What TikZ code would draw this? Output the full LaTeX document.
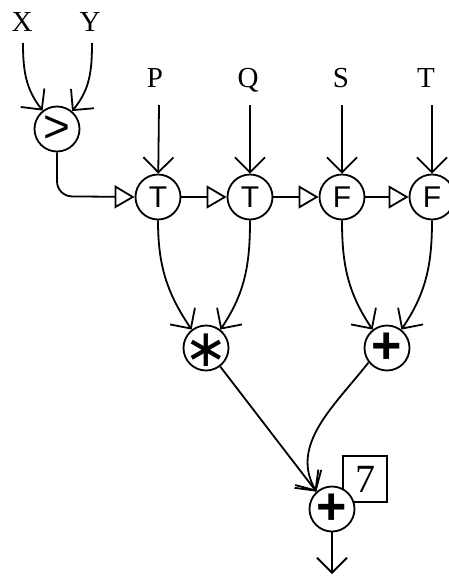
\documentclass[tikz,border=0pt]{standalone}
\usepackage{fontspec}
\setmainfont{Liberation Serif}
\newfontfamily\arial{Liberation Sans}
\newfontfamily\dejavu{DejaVu Sans}
\usetikzlibrary{arrows.meta}
\begin{document}
\begin{tikzpicture}[x=1pt,y=1pt,line width=1.8pt,
  op/.style={circle,draw,fill=white,minimum size=45pt,inner sep=0pt,
    font=\arial\fontsize{30}{30}\selectfont},
  lab/.style={inner sep=0pt,anchor=base,font=\fontsize{29}{29}\selectfont},
  barb/.style={-{Straight Barb[length=15pt,width=30pt]}},
  tri/.style={-{Triangle[open,length=20pt,width=23pt,fill=white]}},
  valbox/.style={draw,line width=1.2pt,minimum width=44pt,minimum height=46pt,
    inner sep=0pt,font=\fontsize{40}{40}\selectfont}]
\useasboundingbox (0,0) rectangle (449,-576);
% labels
\node[lab] (X) at (22,-31) {X};
\node[lab] (Y) at (90,-31) {Y};
\node[lab] (P) at (155,-87) {P};
\node[lab] (Q) at (248,-87) {Q};
\node[lab] (S) at (341,-87) {S};
\node[lab] (T) at (426,-87) {T};
\coordinate (xs) at (23,-43);
\coordinate (ys) at (92,-43);
\coordinate (ps) at (159,-105);
\coordinate (qs) at (250,-105);
\coordinate (ss) at (342,-105);
\coordinate (ts) at (432,-105);
% operators
\node[op] (gt) at (57,-129) {\fontsize{46}{46}\selectfont >};
\node[op] (t1) at (158,-197) {T};
\node[op] (t2) at (250,-197) {T};
\node[op] (f1) at (342,-197) {F};
\node[op] (f2) at (432,-197) {F};
\node[op] (mul) at (206,-348) {\smash{\raisebox{-18pt}{\dejavu\fontsize{52}{52}\selectfont ∗}}};
\node[op] (add1) at (387,-348) {\textbf{\fontsize{52}{52}\selectfont +}};
\node[valbox] (seven) at (365,-479) {7};
\node[op] (add2) at (332,-509) {\textbf{\fontsize{52}{52}\selectfont +}};
\coordinate (out) at (332,-574);
% connectors
\draw[barb] (xs) to[out=-90,in=128] (gt.128);
\draw[barb] (ys) to[out=-90,in=50] (gt.50);
\draw[barb] (ps) -- (t1);
\draw[barb] (qs) -- (t2);
\draw[barb] (ss) -- (f1);
\draw[barb] (ts) -- (f2);
\draw[tri] (gt.south) -- ++(0,-29) arc[start angle=180,end angle=270,radius=15] -- (t1.west);
\draw[tri] (t1) -- (t2);
\draw[tri] (t2) -- (f1);
\draw[tri] (f1) -- (f2);
\draw[barb] (t1.south) to[out=-90,in=124] (mul.128);
\draw[barb] (t2.south) to[out=-90,in=56] (mul.52);
\draw[barb] (f1.south) to[out=-90,in=124] (add1.128);
\draw[barb] (f2.south) to[out=-90,in=56] (add1.52);
\draw[barb] (mul) -- (add2.132);
\draw[barb] (add1.218) to[out=232,in=120] (add2.132);
\draw[barb] (add2) -- (out);
\end{tikzpicture}
\end{document}
